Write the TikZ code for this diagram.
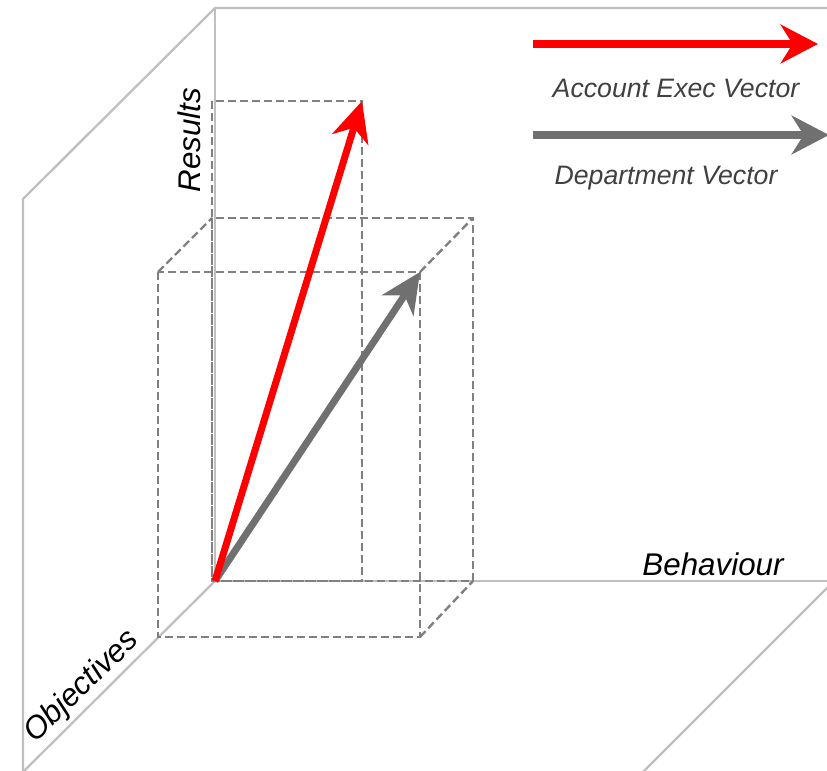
\documentclass[tikz,border=0pt]{standalone}
\usepackage{fontspec}
\setmainfont{Liberation Sans}
\usepackage{tikz}
\usetikzlibrary{arrows.meta, positioning}
\definecolor{axisgray}{HTML}{BFBFBF}
\definecolor{boxgray}{HTML}{808080}
\definecolor{deptgray}{HTML}{707070}
\definecolor{keytext}{HTML}{404040}

\begin{document}
\begin{tikzpicture}[
    x=0.75pt, y=-0.75pt,
    axis/.style={draw=axisgray, line width=1.7pt},
    guide/.style={draw=boxgray, line width=1.8pt, dash pattern=on 6pt off 3pt},
    vec/.style={-{Stealth[length=30pt, width=28pt, inset=9pt]}, line width=5.25pt, draw=#1},
    keyvec/.style={-{Stealth[length=28pt, width=29pt, inset=9pt]}, line width=6pt, draw=#1},
    lbl/.style={font=\fontsize{23.5}{28}\selectfont\itshape, inner sep=0pt},
    key/.style={font=\fontsize{20}{24}\selectfont\itshape, text=keytext, inner sep=0pt}
]
\useasboundingbox (0,0) rectangle (827,770);

\coordinate (O) at (215,581);
\coordinate (backTop) at (215,8);
\coordinate (topEnd) at (830,8);
\coordinate (leftTop) at (23,199);
\coordinate (leftBot) at (23,772);
\coordinate (behEnd) at (830,581);
\coordinate (floorA) at (830,585);
\coordinate (floorB) at (643,772);

\draw[axis] (leftBot) -- (leftTop) -- (backTop) -- (topEnd);
\draw[axis] (backTop) -- (O) -- (behEnd);
\draw[axis] (O) -- (leftBot);
\draw[axis] (floorA) -- (floorB);

\coordinate (aeTip) at (362,101);
\coordinate (dpTip) at (420,272);

\draw[guide] (212,101) rectangle (aeTip |- O);
\draw[guide] (212,218) rectangle (473,581);
\draw[guide] (158,272) rectangle (420,637);
\draw[guide] (158,272) -- (212,218);
\draw[guide] (dpTip) -- (473,218);
\draw[guide] (420,637) -- (473,581);

\draw[vec=deptgray] (O) -- (dpTip);
\draw[vec=red] (O) -- (aeTip);

\node[lbl, rotate=90] (results) at (189,140) {Results};
\node[lbl, rotate=44] (objectives) at (82,687) {Objectives};
\node[lbl] (behaviour) at (713,564) {Behaviour};

\coordinate (aeStart) at (533,44);
\coordinate (aeEnd) at (818,44);
\coordinate (dpStart) at (533,135);
\coordinate (dpEnd) at (829,135);
\draw[keyvec=red] (aeStart) -- (aeEnd);
\draw[keyvec=deptgray] (dpStart) -- (dpEnd);
\node[key] (aeKey) at (676,88) {Account Exec Vector};
\node[key] (dpKey) at (666,178) {Department Vector};
\end{tikzpicture}
\end{document}
